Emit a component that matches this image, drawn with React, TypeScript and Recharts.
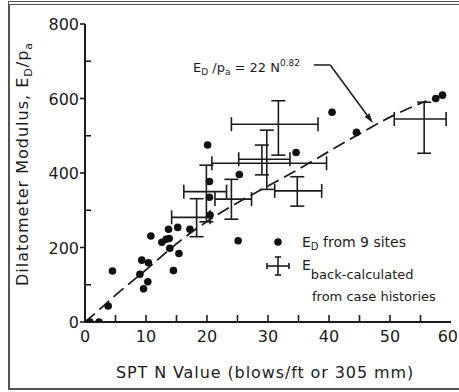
import React from "react";
import {
  ComposedChart,
  XAxis,
  YAxis,
  Scatter,
  Line,
  ErrorBar,
  ReferenceLine,
  ReferenceDot,
  Legend,
} from "recharts";

const FONT = "'DejaVu Sans', sans-serif";
const INK = "#1c1c1c";

// E_D measured at 9 sites (SPT N, E_D/p_a)
const siteN = [0.8, 2.3, 3.8, 4.5, 9.0, 9.6, 10.3, 9.3, 10.4, 10.8, 12.6, 13.3, 13.8, 13.7, 15.2, 13.9, 15.4, 14.5, 17.2, 20.1, 20.4, 20.4, 20.5, 25.3, 25.1, 34.6, 40.5, 44.5, 57.5, 58.6];
const siteE = [0, 0, 43, 137, 128, 89, 108, 166, 159, 231, 214, 222, 224, 249, 254, 198, 184, 138, 249, 475, 377, 335, 287, 396, 218, 455, 563, 509, 600, 609];

// back-calculated moduli from case histories, with their ranges
const caseN = [31.7, 29.8, 29.0, 19.9, 24.0, 18.3, 34.8, 55.6];
const caseNLow = [24.0, 20.8, 25.2, 16.2, 21.3, 14.2, 31.1, 50.7];
const caseNHigh = [38.2, 39.6, 33.6, 23.2, 27.3, 20.5, 38.8, 59.2];
const caseE = [531, 426, 437, 350, 330, 281, 352, 545];
const caseELow = [448, 356, 395, 269, 276, 229, 311, 453];
const caseEHigh = [594, 515, 475, 421, 383, 331, 390, 590];

// E_D/p_a = 22 N^0.82 trend line
const fitN = [0, 2, 5, 10, 15, 20, 25, 30, 35, 40, 45, 50, 56];
const fitE = [0, 28, 72, 140, 210, 270, 320, 365, 410, 458, 505, 550, 594];

const xTicks = [0, 5, 10, 15, 20, 25, 30, 35, 40, 45, 50, 55, 60];
const yTicks = [0, 100, 200, 300, 400, 500, 600, 700, 800];

const sites = siteN.map((n, i) => ({ n, e: siteE[i] }));
const cases = caseN.map((n, i) => ({
  n,
  e: caseE[i],
  ex: [n - caseNLow[i], caseNHigh[i] - n],
  ey: [caseE[i] - caseELow[i], caseEHigh[i] - caseE[i]],
}));
const fit = fitN.map((n, i) => ({ n, e: fitE[i] }));

const BottomTick = ({ x, y, payload }: any) => {
  const v = payload.value;
  const last = v === 60;
  return (
    <g>
      {v > 0 && v < 60 && <line x1={x} x2={x} y1={y} y2={y - 7} stroke={INK} strokeWidth={1.6} />}
      {v % 10 === 0 && (
        <text
          x={last ? x + 7 : x}
          y={y + 20}
          textAnchor={last ? "end" : "middle"}
          fontFamily={FONT}
          fontSize={16}
          fill={INK}
        >
          {v}
        </text>
      )}
    </g>
  );
};

const TopTick = ({ x, y, payload }: any) => {
  const v = payload.value;
  if (v <= 0 || v >= 60) return <g />;
  return <line x1={x} x2={x} y1={y} y2={y + 7} stroke={INK} strokeWidth={1.6} />;
};

const LeftTick = ({ x, y, payload }: any) => {
  const v = payload.value;
  if (v % 200 === 0) {
    return (
      <g>
        <line x1={x - 5} x2={x} y1={y} y2={y} stroke={INK} strokeWidth={1.6} />
        <text x={x - 6} y={y + 6} textAnchor="end" fontFamily={FONT} fontSize={16} fill={INK}>
          {v}
        </text>
      </g>
    );
  }
  return <line x1={x} x2={x + 6} y1={y} y2={y} stroke={INK} strokeWidth={1.6} />;
};

const RightTick = ({ x, y, payload }: any) => {
  const v = payload.value;
  if (v <= 0 || v >= 800) return <g />;
  return <line x1={x} x2={x - 6} y1={y} y2={y} stroke={INK} strokeWidth={1.6} />;
};

const SiteDot = (p: any) => <circle cx={p.cx} cy={p.cy} r={3.8} fill="#111" />;

// leader from the equation to the trend line, ends in a filled arrowhead
const Leader = (p: any) => {
  const { x1, y1, x2, y2 } = p;
  const a = Math.atan2(y2 - y1, x2 - x1);
  const len = 10;
  const w = 3;
  const bx = x2 - len * Math.cos(a);
  const by = y2 - len * Math.sin(a);
  const pts = [
    `${x2},${y2}`,
    `${bx - w * Math.sin(a)},${by + w * Math.cos(a)}`,
    `${bx + w * Math.sin(a)},${by - w * Math.cos(a)}`,
  ].join(" ");
  return (
    <g>
      <line x1={x1} y1={y1} x2={bx} y2={by} stroke={INK} strokeWidth={1.5} />
      <polygon points={pts} fill={INK} />
    </g>
  );
};

const Equation = (p: any) => (
  <text x={p.cx} y={p.cy} fontFamily={FONT} fontSize={13} fill={INK}>
    E<tspan dy={3} fontSize={9}>D</tspan>
    <tspan dy={-3}> /p</tspan>
    <tspan dy={3} fontSize={9}>a</tspan>
    <tspan dy={-3}> = 22 N</tspan>
    <tspan dy={-6} fontSize={9}>0.82</tspan>
  </text>
);

const LegendBox = () => (
  <svg width={190} height={82}>
    <circle cx={16} cy={14} r={3.8} fill="#111" />
    <text x={40} y={19} fontFamily={FONT} fontSize={14} fill={INK}>
      E<tspan dy={3} fontSize={10}>D</tspan>
      <tspan dy={-3}>  from 9 sites</tspan>
    </text>
    <g stroke={INK} strokeWidth={1.6}>
      <line x1={5} x2={27} y1={38} y2={38} />
      <line x1={16} x2={16} y1={29} y2={47} />
      <line x1={5} x2={5} y1={35} y2={41} />
      <line x1={27} x2={27} y1={35} y2={41} />
      <line x1={13} x2={19} y1={29} y2={29} />
      <line x1={13} x2={19} y1={47} y2={47} />
    </g>
    <text x={40} y={42} fontFamily={FONT} fontSize={14} fill={INK}>
      E<tspan dy={9} fontSize={13}>back-calculated</tspan>
    </text>
    <text x={50} y={73} fontFamily={FONT} fontSize={13} fill={INK}>
      from case histories
    </text>
  </svg>
);

export default function App() {
  return (
    <div style={{ position: "absolute", left: 0, top: 0, width: 459, height: 392, background: "#fff" }}>
      <div
        style={{
          position: "absolute",
          left: 8,
          top: 1,
          width: 451,
          height: 389,
          borderTop: "4px double #555",
          borderLeft: "2px solid #555",
          borderBottom: "2px solid #555",
          boxSizing: "border-box",
        }}
      />
      <div style={{ position: "absolute", left: 0, top: 0 }}>
        <ComposedChart width={459} height={392} margin={{ top: 24, right: 8, bottom: 14, left: 0 }}>
          <XAxis
            xAxisId={0}
            dataKey="n"
            type="number"
            domain={[0, 60]}
            ticks={xTicks}
            interval={0}
            height={56}
            tickSize={0}
            tickMargin={0}
            tickLine={false}
            tick={BottomTick}
            axisLine={{ stroke: INK, strokeWidth: 2 }}
            allowDataOverflow
            label={{
              content: () => (
                <text
                  x={265}
                  y={378}
                  textAnchor="middle"
                  fontFamily={FONT}
                  fontSize={16}
                  letterSpacing={0.9}
                  fill={INK}
                >
                  SPT N Value (blows/ft or 305 mm)
                </text>
              ),
            }}
          />
          <XAxis
            xAxisId="top"
            orientation="top"
            type="number"
            domain={[0, 60]}
            ticks={xTicks}
            interval={0}
            height={0}
            tickSize={0}
            tickMargin={0}
            tickLine={false}
            tick={TopTick}
            axisLine={{ stroke: INK, strokeWidth: 2 }}
            allowDataOverflow
          />
          <YAxis
            yAxisId={0}
            dataKey="e"
            type="number"
            domain={[0, 800]}
            ticks={yTicks}
            interval={0}
            width={85}
            tickSize={0}
            tickMargin={0}
            tickLine={false}
            tick={LeftTick}
            axisLine={{ stroke: INK, strokeWidth: 2 }}
            allowDataOverflow
            label={{
              content: () => (
                <text
                  transform="translate(28,164) rotate(-90)"
                  textAnchor="middle"
                  fontFamily={FONT}
                  fontSize={16}
                  letterSpacing={1}
                  fill={INK}
                >
                  Dilatometer Modulus, E<tspan dy={4} fontSize={11}>D</tspan>
                  <tspan dy={-4}>/p</tspan>
                  <tspan dy={4} fontSize={11}>a</tspan>
                </text>
              ),
            }}
          />
          <YAxis
            yAxisId="right"
            orientation="right"
            type="number"
            domain={[0, 800]}
            ticks={yTicks}
            interval={0}
            width={0}
            tickSize={0}
            tickMargin={0}
            tickLine={false}
            tick={RightTick}
            axisLine={{ stroke: INK, strokeWidth: 2 }}
            allowDataOverflow
          />

          <Line
            data={fit}
            dataKey="e"
            type="monotone"
            stroke={INK}
            strokeWidth={1.8}
            strokeDasharray="13 6"
            dot={false}
            activeDot={false}
            isAnimationActive={false}
          />

          <Scatter data={cases} dataKey="e" shape={() => <g />} isAnimationActive={false}>
            <ErrorBar dataKey="ex" direction="x" width={7} stroke={INK} strokeWidth={1.6} isAnimationActive={false} />
            <ErrorBar dataKey="ey" direction="y" width={7} stroke={INK} strokeWidth={1.6} isAnimationActive={false} />
          </Scatter>

          <Scatter data={sites} dataKey="e" shape={SiteDot} isAnimationActive={false} />

          <ReferenceLine
            segment={[
              { x: 37.5, y: 690 },
              { x: 40.2, y: 690 },
            ]}
            stroke={INK}
            strokeWidth={1.5}
            ifOverflow="visible"
          />
          <ReferenceLine
            segment={[
              { x: 40.2, y: 690 },
              { x: 47.2, y: 534 },
            ]}
            shape={Leader}
            ifOverflow="visible"
          />
          <ReferenceDot x={17.7} y={671} r={0} shape={Equation} ifOverflow="visible" />

          <Legend
            layout="vertical"
            align="center"
            verticalAlign="middle"
            content={LegendBox}
            wrapperStyle={{ left: 262, top: 228, width: 190, height: 82 }}
          />
        </ComposedChart>
      </div>
    </div>
  );
}
